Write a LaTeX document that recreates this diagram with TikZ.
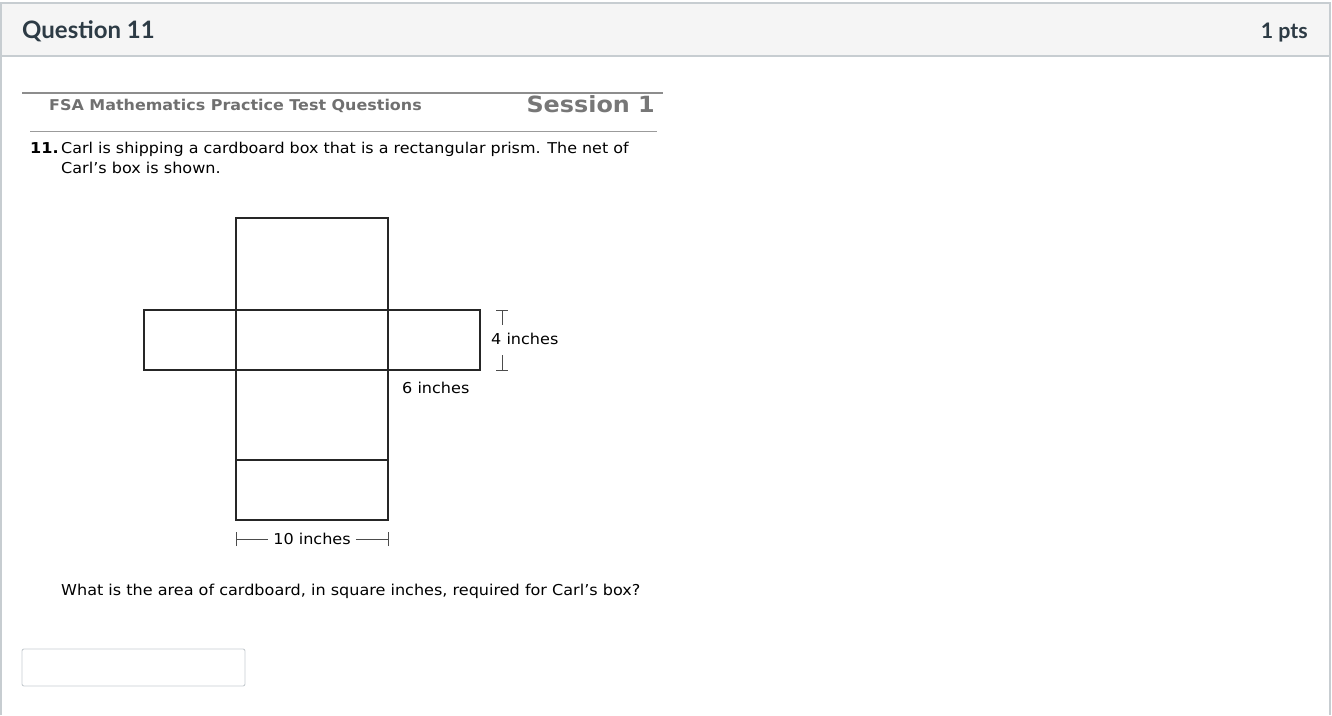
\documentclass[tikz,border=0pt]{standalone}
\usepackage{fontspec}
\setmainfont[FakeStretch=1.07]{DejaVu Sans}
\newfontfamily\latofont{Lato}
\usepackage{xcolor}
\definecolor{bandgray}{HTML}{F5F5F5}
\definecolor{framegray}{HTML}{C7CDD1}
\definecolor{inkdark}{HTML}{2D3B45}
\definecolor{fsagray}{HTML}{707070}
\usepackage{tikz}

\tikzset{
    body/.style={anchor=base west, inner sep=0pt, font=\fontsize{15}{18}\selectfont, text=black},
    dimlabel/.style={inner sep=0pt, font=\fontsize{15}{18}\selectfont, text=black},
    netline/.style={line width=1.2pt, draw=black!85}
}

\begin{document}
\begin{tikzpicture}[x=1pt, y=-1pt]
    \useasboundingbox (0,0) rectangle (1332,715);

    % Draw the question frame and its header band
    \fill[bandgray] (1,3) rectangle (1330,56);
    \draw[framegray, line width=1.2pt] (1,715) -- (1,3) -- (1330,3) -- (1330,715);
    \draw[framegray, line width=1.2pt] (1,56) -- (1330,56);
    \node[anchor=base west, inner sep=0pt, text=inkdark, font=\latofont\bfseries\fontsize{24}{28}\selectfont] (qtitle) at (22,38) {Question 11};
    \node[anchor=base east, inner sep=0pt, text=inkdark, font=\latofont\bfseries\fontsize{21.4}{25}\selectfont] (qpts) at (1308,38) {1 pts};

    % FSA page header
    \draw[fsagray!80, line width=2pt] (22,92.5) -- (663,92.5);
    \node[anchor=base west, inner sep=0pt, text=fsagray, font=\bfseries\fontsize{14.9}{17}\selectfont] (fsa) at (49,110) {FSA Mathematics Practice Test Questions};
    \node[anchor=base east, inner sep=0pt, text=fsagray!95, font=\bfseries\fontsize{22.3}{26}\selectfont] (session) at (655,112) {Session 1};
    \draw[fsagray!70, line width=0.8pt] (30,131) -- (657,131);

    % Question text
    \node[body, font=\bfseries\fontsize{15}{18}\selectfont] (num) at (30,153) {11.};
    \node[body, font=\fontsize{14.9}{18}\selectfont] (line1) at (61,153) {Carl is shipping a cardboard box that is a rectangular prism. The net of};
    \node[body] (line2) at (61,173) {Carl’s box is shown.};

    % Draw the net
    \coordinate (nw) at (236,218);
    \coordinate (se) at (388,520);
    \draw[netline] (nw) rectangle (se);
    \draw[netline] (144,310) rectangle (480,370);
    \foreach \y in {310,370,460}
        \draw[netline] (236,\y) -- (388,\y);

    % Dimension for 4 inches
    \node[dimlabel, anchor=base west] (four) at (491,344) {4 inches};
    \coordinate (fourtop) at (502,310);
    \coordinate (fourbot) at (502,370);
    \draw[black!70, line width=0.8pt] (fourtop) -- (502,325);
    \draw[black!70, line width=0.8pt] (502,355) -- (fourbot);
    \draw[black!70, line width=0.8pt] ([xshift=-6pt]fourtop) -- ([xshift=6pt]fourtop);
    \draw[black!70, line width=0.8pt] ([xshift=-6pt]fourbot) -- ([xshift=6pt]fourbot);

    % Label for 6 inches
    \node[dimlabel, anchor=base west] (six) at (402,393) {6 inches};

    % Dimension for 10 inches
    \node[dimlabel, anchor=base] (ten) at (312,544) {10 inches};
    \coordinate (tenleft) at (236,539);
    \coordinate (tenright) at (388,539);
    \draw[black!70, line width=0.8pt] (tenleft) -- ([xshift=-5pt]ten.west |- tenleft);
    \draw[black!70, line width=0.8pt] ([xshift=5pt]ten.east |- tenright) -- (tenright);
    \draw[black!70, line width=0.8pt] ([yshift=-7pt]tenleft) -- ([yshift=7pt]tenleft);
    \draw[black!70, line width=0.8pt] ([yshift=-7pt]tenright) -- ([yshift=7pt]tenright);

    % Question and answer box
    \node[body] (ask) at (61,595) {What is the area of cardboard, in square inches, required for Carl’s box?};
    \draw[framegray, line width=0.9pt, rounded corners=2pt] (22,649) rectangle (245,686);
\end{tikzpicture}
\end{document}
